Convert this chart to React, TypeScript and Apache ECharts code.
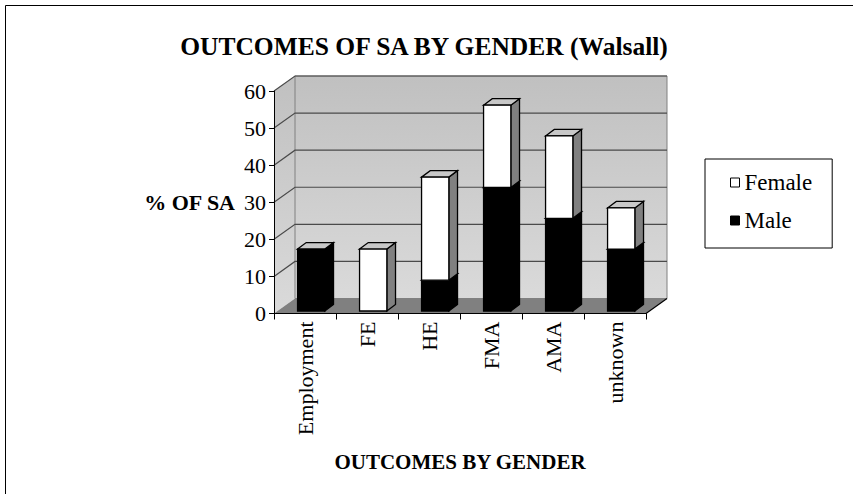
import React, { useEffect, useRef } from "react";
import * as echarts from "echarts";

const categories = ["Employment", "FE", "HE", "FMA", "AMA", "unknown"];
const maleValues = [16.7, 0, 8.3, 33.3, 25, 16.7];
const femaleValues = [0, 16.7, 27.8, 22.2, 22.2, 11.1];
const yTicks = [0, 10, 20, 30, 40, 50, 60];

const FONT = "'Liberation Serif', 'Times New Roman', serif";
const WALL_DX = 21;
const WALL_DY = -15;

function box(left: number, right: number, yb: number, yt: number, ddx: number, ddy: number, front: string, side: string, top: string) {
  const stroke = { stroke: "#000", lineWidth: 1.3 };
  return [
    {
      type: "polygon",
      shape: { points: [[right, yb], [right + ddx, yb + ddy], [right + ddx, yt + ddy], [right, yt]] },
      style: { fill: side, ...stroke },
    },
    {
      type: "polygon",
      shape: { points: [[left, yt], [left + ddx, yt + ddy], [right + ddx, yt + ddy], [right, yt]] },
      style: { fill: top, ...stroke },
    },
    {
      type: "rect",
      shape: { x: left, y: yt, width: right - left, height: yb - yt },
      style: { fill: front, ...stroke },
    },
  ];
}

function makeBarRenderer(front: string, side: string, top: string) {
  return (params: any, api: any) => {
    const i = api.value(0);
    const lo = api.value(1);
    const hi = api.value(2);
    if (!(hi - lo > 0)) return { type: "group", children: [] };
    const catW = api.size([1, 0])[0];
    const c = api.coord([i, lo]);
    const t = api.coord([i, hi]);
    const bw = catW * 0.44;
    const sx = catW * 0.1;
    const sy = -2.5;
    const left = c[0] + sx - bw / 2;
    const right = left + bw;
    const yb = c[1] + sy;
    const yt = t[1] + sy;
    return {
      type: "group",
      children: box(left, right, yb, yt, catW * 0.14, -6.5, front, side, top),
    };
  };
}

function backdropRenderer(params: any, api: any) {
  const cs = params.coordSys;
  const x0 = cs.x;
  const x1 = cs.x + cs.width;
  const y0 = api.coord([0, yTicks[0]])[1];
  const yTop = api.coord([0, yTicks[yTicks.length - 1]])[1];
  const grad = new echarts.graphic.LinearGradient(0, 0, 0, 1, [
    { offset: 0, color: "#c0c0c0" },
    { offset: 1, color: "#dadada" },
  ]);
  const children: any[] = [
    {
      type: "polygon",
      shape: { points: [[x0, y0], [x0, yTop], [x0 + WALL_DX, yTop + WALL_DY], [x0 + WALL_DX, y0 + WALL_DY]] },
      style: { fill: grad },
    },
    {
      type: "rect",
      shape: { x: x0 + WALL_DX, y: yTop + WALL_DY, width: x1 - x0, height: y0 - yTop },
      style: { fill: grad, stroke: "#808080", lineWidth: 1 },
    },
    {
      type: "polygon",
      shape: { points: [[x0, y0], [x1, y0], [x1 + WALL_DX, y0 + WALL_DY], [x0 + WALL_DX, y0 + WALL_DY]] },
      style: { fill: "#808080" },
    },
  ];
  yTicks.slice(1).forEach((v) => {
    const y = api.coord([0, v])[1];
    children.push({
      type: "polyline",
      shape: { points: [[x0, y], [x0 + WALL_DX, y + WALL_DY], [x1 + WALL_DX, y + WALL_DY]] },
      style: { stroke: "#4a4a4a", lineWidth: 1.2, fill: null },
    });
  });
  children.push({
    type: "line",
    shape: { x1: x1, y1: y0, x2: x1 + WALL_DX, y2: y0 + WALL_DY },
    style: { stroke: "#000", lineWidth: 1.2 },
  });
  return { type: "group", children };
}

export default function App() {
  const ref = useRef<HTMLDivElement>(null);
  useEffect(() => {
    if (!ref.current) return;
    const chart = echarts.init(ref.current, null, { renderer: "svg" });
    const maleData = maleValues.map((v, i) => [i, 0, v]);
    const femaleData = femaleValues.map((v, i) => [i, maleValues[i], maleValues[i] + v]);
    chart.setOption({
      animation: false,
      backgroundColor: "#fff",
      title: {
        text: "OUTCOMES OF SA BY GENDER (Walsall)",
        left: 419,
        textAlign: "center",
        top: 28,
        textStyle: { fontFamily: FONT, fontSize: 25.5, fontWeight: "bold", color: "#000" },
      },
      legend: {
        orient: "vertical",
        left: 705,
        top: 159,
        padding: [12, 20, 16, 25],
        itemGap: 15,
        itemWidth: 9,
        itemHeight: 9,
        icon: "rect",
        borderColor: "#000",
        borderWidth: 1,
        selectedMode: false,
        textStyle: { fontFamily: FONT, fontSize: 23, color: "#000" },
        data: [
          { name: "Female", itemStyle: { color: "#fff", borderColor: "#000", borderWidth: 1 } },
          { name: "Male", itemStyle: { color: "#000", borderColor: "#000", borderWidth: 1 } },
        ],
      },
      graphic: [
        { type: "line", shape: { x1: 5.5, y1: 5.5, x2: 853, y2: 5.5 }, style: { stroke: "#000", lineWidth: 1 } },
        { type: "line", shape: { x1: 5.5, y1: 5.5, x2: 5.5, y2: 494 }, style: { stroke: "#000", lineWidth: 1 } },
      ],
      grid: { left: 274, right: 207, top: 91, bottom: 180.5, containLabel: false },
      xAxis: {
        type: "category",
        data: categories,
        z: 10,
        name: "OUTCOMES BY GENDER",
        nameLocation: "middle",
        nameGap: 148,
        nameTextStyle: { fontFamily: FONT, fontSize: 21, fontWeight: "bold", color: "#000", verticalAlign: "middle" },
        axisLine: { show: true, lineStyle: { color: "#000", width: 1 } },
        axisTick: { show: true, length: 6, lineStyle: { color: "#000" } },
        axisLabel: { rotate: 90, interval: 0, margin: 8, fontFamily: FONT, fontSize: 22, color: "#000" },
        splitLine: { show: false },
      },
      yAxis: {
        type: "value",
        min: 0,
        max: 60,
        interval: 10,
        z: 10,
        name: "% OF SA",
        nameLocation: "middle",
        nameRotate: 0,
        nameGap: 39,
        nameTextStyle: {
          fontFamily: FONT,
          fontSize: 22,
          fontWeight: "bold",
          color: "#000",
          align: "right",
          verticalAlign: "middle",
          padding: [10, 0, 0, 0],
        },
        axisLine: { show: true, lineStyle: { color: "#000", width: 1 } },
        axisTick: { show: true, length: 5, lineStyle: { color: "#000" } },
        axisLabel: { margin: 8, fontFamily: FONT, fontSize: 22, color: "#000" },
        splitLine: { show: false },
      },
      series: [
        {
          type: "custom",
          name: "backdrop",
          silent: true,
          z: 1,
          renderItem: backdropRenderer,
          data: [[0, 0]],
          encode: { x: 0, y: 1 },
        },
        {
          type: "custom",
          name: "Male",
          z: 2,
          itemStyle: { color: "#000" },
          renderItem: makeBarRenderer("#000", "#000", "#c8c8c8"),
          data: maleData,
          encode: { x: 0, y: 2 },
        },
        {
          type: "custom",
          name: "Female",
          z: 3,
          itemStyle: { color: "#fff" },
          renderItem: makeBarRenderer("#fff", "#808080", "#c8c8c8"),
          data: femaleData,
          encode: { x: 0, y: 2 },
        },
      ],
    });
    return () => chart.dispose();
  }, []);
  return (
    <div
      ref={ref}
      style={{ position: "fixed", left: 0, top: 0, width: 853, height: 494 }}
    />
  );
}
